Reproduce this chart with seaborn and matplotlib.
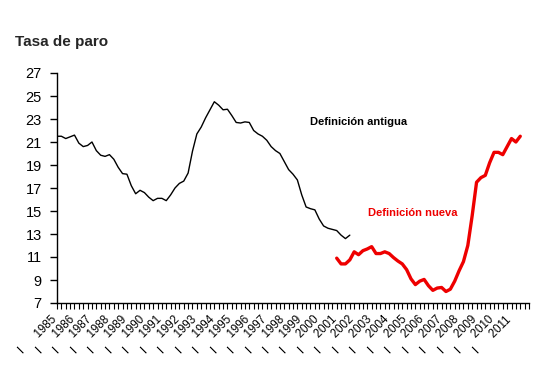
import numpy as np
import pandas as pd
import matplotlib
matplotlib.use("Agg")
import matplotlib.pyplot as plt
import matplotlib.transforms as mtransforms
import seaborn as sns

# Quarterly series, first quarter = 1985 Q1
years = list(range(1985, 2012))

tasa_antigua = [
    21.5, 21.5, 21.3, 21.45, 21.6, 20.9, 20.6, 20.7, 21.0, 20.25,
    19.85, 19.75, 19.9, 19.5, 18.8, 18.25, 18.2, 17.2, 16.5, 16.8,
    16.6, 16.2, 15.9, 16.1, 16.1, 15.9, 16.4, 17.0, 17.4, 17.6,
    18.3, 20.2, 21.7, 22.3, 23.1, 23.8, 24.5, 24.2, 23.8, 23.85,
    23.3, 22.7, 22.65, 22.75, 22.7, 22.0, 21.7, 21.5, 21.15, 20.6,
    20.25, 20.0, 19.3, 18.6, 18.2, 17.7, 16.4, 15.35, 15.2, 15.1,
    14.3, 13.7, 13.5, 13.4, 13.3, 12.9, 12.6, 12.9,
]
inicio_nueva = 64  # quarter index where the new definition starts
tasa_nueva = [
    10.9, 10.4, 10.4, 10.75, 11.45, 11.2, 11.55, 11.7, 11.9, 11.3,
    11.3, 11.45, 11.3, 10.95, 10.65, 10.4, 9.9, 9.1, 8.6, 8.9,
    9.05, 8.5, 8.1, 8.3, 8.35, 8.0, 8.2, 8.9, 9.8, 10.6,
    12.0, 14.6, 17.5, 17.9, 18.1, 19.2, 20.1, 20.1, 19.9, 20.6,
    21.3, 21.0, 21.5,
]

n_quarters = len(years) * 4

df = pd.concat([
    pd.DataFrame({"q": np.arange(len(tasa_antigua)), "tasa": tasa_antigua,
                  "serie": "antigua"}),
    pd.DataFrame({"q": np.arange(len(tasa_nueva)) + inicio_nueva,
                  "tasa": tasa_nueva, "serie": "nueva"}),
])

sns.set_style("ticks")
plt.rcParams["font.family"] = ["Liberation Sans", "DejaVu Sans"]

fig = plt.figure(figsize=(5.45, 3.71), dpi=100)
ax = fig.add_axes([57 / 545, 1 - 303 / 371, 472 / 545, 230 / 371])

sns.lineplot(data=df, x="q", y="tasa", hue="serie", size="serie",
             palette={"antigua": "black", "nueva": "#ee0000"},
             sizes={"antigua": 1.0, "nueva": 2.4},
             legend=False, ax=ax)

ax.set_xlim(0, n_quarters)
ax.set_ylim(7, 27)
ax.set_yticks(range(7, 28, 2))
ax.tick_params(axis="y", labelsize=10.5, length=5, width=1, direction="out",
               colors="black", pad=6)
ax.set_xticks(np.arange(0, n_quarters, 4))
ax.set_xticklabels([f"I      {y}" for y in years], rotation=45,
                   ha="right", rotation_mode="anchor", fontsize=8.3)
ax.set_xticks(np.arange(0, n_quarters + 1), minor=True)
ax.tick_params(axis="x", which="both", length=4, width=0.8, direction="out",
               colors="black", pad=3)

# nudge year labels a little to the left, as in the original
shift = mtransforms.ScaledTranslation(-6 / 100, -1 / 100, fig.dpi_scale_trans)
for lab in ax.get_xticklabels():
    lab.set_transform(lab.get_transform() + shift)

ax.set_xlabel("")
ax.set_ylabel("")
sns.despine(ax=ax)
for s in ["left", "bottom"]:
    ax.spines[s].set_color("black")
    ax.spines[s].set_linewidth(1.0)

fig.text(15 / 545, 1 - 42 / 371, "Tasa de paro", fontsize=11,
         fontweight="bold", va="center", ha="left")
ax.text(0.537, 0.785, "Definición antigua", transform=ax.transAxes,
        fontsize=8, fontweight="bold", color="black", va="center")
ax.text(0.659, 0.393, "Definición nueva", transform=ax.transAxes,
        fontsize=8, fontweight="bold", color="#ee0000", va="center")

fig.savefig("out.png", dpi=100)
